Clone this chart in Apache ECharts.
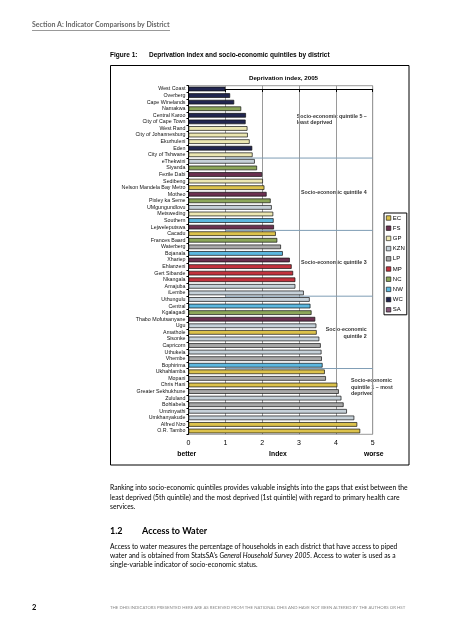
<!DOCTYPE html>
<html><head><meta charset="utf-8">
<script src="https://cdn.jsdelivr.net/npm/echarts@6/dist/echarts.min.js"></script>
<style>html,body{margin:0;padding:0;background:#fff}#c{width:453px;height:640px}</style>
</head><body><div id="c"></div>
<script>
const categories = ['West Coast','Overberg','Cape Winelands','Namakwa','Central Karoo','City of Cape Town','West Rand','City of Johannesburg','Ekurhuleni','Eden','City of Tshwane','eThekwini','Siyanda','Fezile Dabi','Sedibeng','Nelson Mandela Bay Metro','Motheo','Pixley ka Seme','UMgungundlovu','Metsweding','Southern','Lejweleputswa','Cacadu','Frances Baard','Waterberg','Bojanala','Xhariep','Ehlanzeni','Gert Sibande','Nkangala','Amajuba','iLembe','Uthungulu','Central','Kgalagadi','Thabo Mofutsanyane','Ugu','Amathole','Sisonke','Capricorn','Uthukela','Vhembe','Bophirima','Ukhahlamba','Mopani','Chris Hani','Greater Sekhukhune','Zululand','Bohlabela','Umzinyathi','Umkhanyakude','Alfred Nzo','O.R. Tambo'];
const values = [1.00,1.13,1.24,1.43,1.56,1.55,1.60,1.61,1.66,1.73,1.74,1.80,1.86,2.00,2.02,2.06,2.12,2.23,2.26,2.30,2.31,2.32,2.37,2.41,2.51,2.56,2.75,2.80,2.84,2.90,2.90,3.13,3.29,3.31,3.34,3.44,3.47,3.48,3.55,3.59,3.61,3.62,3.64,3.70,3.73,4.04,4.08,4.15,4.21,4.30,4.50,4.58,4.66];
const provinces = ['WC','WC','WC','NC','WC','WC','GP','GP','GP','WC','GP','KZN','NC','FS','GP','EC','FS','NC','KZN','GP','NW','FS','EC','NC','LP','NW','FS','MP','MP','MP','KZN','KZN','KZN','NW','NC','FS','KZN','EC','KZN','LP','KZN','LP','NW','EC','LP','EC','LP','KZN','LP','KZN','KZN','EC','EC'];
const provinceNames = ['EC','FS','GP','KZN','LP','MP','NC','NW','WC','SA'];
const xTicks = [0,1,2,3,4,5];
const quintileBreaks = [10.5, 21.5, 31.5, 42.5];
const quintileLabels = ['Socio-economic quintile 5 –\nleast deprived','Socio-economic quintile 4','Socio-economic quintile 3','Socio-economic\nquintile 2','Socio-economic\nquintile 1 – most\ndeprived'];

const colors = {EC:'#dcc24c',FS:'#6b3150',GP:'#ece7b2',KZN:'#c6d1d9',LP:'#a9a9a9',MP:'#c2323e',NC:'#8ca65a',NW:'#5cb8e0',WC:'#21254f',SA:'#86577a'};
const CF = '"Liberation Sans", Arial, sans-serif';
const DF = 'Lato, "DejaVu Sans", sans-serif';

const chart = echarts.init(document.getElementById('c'), null, {renderer:'canvas'});
const series = provinceNames.map(p => ({
  type:'bar', name:p, stack:'d', barWidth:4.6, xAxisIndex:0, yAxisIndex:0, color:colors[p],
  data: values.map((v,i) => provinces[i] === p ? v : '-'),
  itemStyle:{color:colors[p], borderColor:'#111', borderWidth:0.7},
  emphasis:{disabled:true}, z:3
}));
quintileBreaks.forEach(b => series.push({
  type:'line', xAxisIndex:0, yAxisIndex:1, symbol:'none', silent:true,
  data:[[1,b],[5,b]], lineStyle:{color:'#7f9db5', width:1}, z:2
}));

function t(text, x, y, size, opts){
  opts = opts || {};
  return {type:'text', x:x, y:y, silent:true, style:Object.assign({text:text, fontSize:size, fontFamily:CF, fill:'#000', textAlign:'left', textVerticalAlign:'middle'}, opts)};
}
const PS = 6.75;
const graphic = [
  {type:'rect', shape:{x:110.5,y:65.5,width:298.5,height:399.5}, style:{fill:'none', stroke:'#000', lineWidth:1}, silent:true},
  t('Section A: Indicator Comparisons by District', 32, 24.7, 7, {fontFamily:DF, fontWeight:'bold', fill:'#666'}),
  {type:'line', shape:{x1:32,y1:30.5,x2:170,y2:30.5}, style:{stroke:'#999', lineWidth:1}, silent:true},
  t('Figure 1:', 110, 55, 6.5, {fontWeight:'bold'}),
  t('Deprivation index and socio-economic quintiles by district', 149, 55, 6.5, {fontWeight:'bold'}),
  t('Deprivation index, 2005', 283.5, 78, 6.2, {fontWeight:'bold', textAlign:'center'}),
  t(quintileLabels[0], 296.7, 119.5, 5.3, {fontWeight:'bold', fill:'#333', lineHeight:6.7}),
  t(quintileLabels[1], 301, 192.7, 5.3, {fontWeight:'bold', fill:'#333'}),
  t(quintileLabels[2], 301, 262.3, 5.3, {fontWeight:'bold', fill:'#333'}),
  t(quintileLabels[3], 366.7, 333, 5.3, {fontWeight:'bold', fill:'#333', textAlign:'right', lineHeight:6.7}),
  t(quintileLabels[4], 351, 387.3, 5.3, {fontWeight:'bold', fill:'#333', lineHeight:6.5}),
  t('better', 186.7, 454, 6.8, {fontWeight:'bold', textAlign:'center'}),
  t('Index', 278, 454, 6.8, {fontWeight:'bold', textAlign:'center'}),
  t('worse', 373.7, 454, 6.8, {fontWeight:'bold', textAlign:'center'}),
  t('Ranking into socio-economic quintiles provides valuable insights into the gaps that exist between the', 110, 488.3, PS, {fontFamily:DF}),
  t('least deprived (5th quintile) and the most deprived (1st quintile) with regard to primary health care', 110, 497.7, PS, {fontFamily:DF}),
  t('services.', 110, 506.7, PS, {fontFamily:DF}),
  t('1.2', 110, 531, 9, {fontFamily:DF, fontWeight:'bold'}),
  t('Access to Water', 142, 531, 9, {fontFamily:DF, fontWeight:'bold'}),
  t('Access to water measures the percentage of households in each district that have access to piped', 110, 546.7, PS, {fontFamily:DF}),
  {type:'text', x:110, y:555.7, silent:true, style:{text:'water and is obtained from StatsSA\u2019s {i|General Household Survey 2005}. Access to water is used as a', fontSize:PS, fontFamily:DF, fill:'#000', textVerticalAlign:'middle', rich:{i:{fontStyle:'italic', fontSize:PS, fontFamily:DF}}}},
  t('single-variable indicator of socio-economic status.', 110, 565, PS, {fontFamily:DF}),
  t('2', 32, 608, 7.5, {fontFamily:DF, fontWeight:'bold'}),
  t('THE DHIS INDICATORS PRESENTED HERE ARE AS RECEIVED FROM THE NATIONAL DHIS AND HAVE NOT BEEN ALTERED BY THE AUTHORS OR HST', 110, 608, 4.3, {fontFamily:DF, fill:'#888'})
];

chart.setOption({
  animation:false,
  textStyle:{fontFamily:CF},
  grid:{left:188.5, right:80.3, top:85.7, bottom:205.7, show:true, borderColor:'#9a9a9a', borderWidth:1, backgroundColor:'transparent'},
  legend:{data:provinceNames.map(p => ({name:p, icon:'rect', itemStyle:{color:colors[p], borderColor:'#000', borderWidth:0.6}})),
    orient:'vertical', left:384, top:213, padding:[2,2,2,2], itemWidth:4.5, itemHeight:4.5, itemGap:4.2,
    borderColor:'#000', borderWidth:1, selectedMode:false, textStyle:{fontSize:6, fontFamily:CF, color:'#000', padding:[0,0,0,-3]}},
  xAxis:[{type:'value', min:xTicks[0], max:xTicks[xTicks.length-1], interval:1,
    axisLine:{show:true, lineStyle:{color:'#000', width:1}}, axisTick:{show:true, length:3, lineStyle:{color:'#000'}},
    axisLabel:{fontSize:7, color:'#000', margin:5, formatter:v => xTicks.indexOf(v) >= 0 ? String(v) : ''},
    splitLine:{show:true, lineStyle:{color:'#9a9a9a', width:1}}}],
  yAxis:[{type:'category', data:categories, inverse:true, boundaryGap:true,
    axisLine:{show:true, lineStyle:{color:'#000', width:1}}, axisTick:{show:true, length:2, lineStyle:{color:'#000'}},
    axisLabel:{fontSize:5.3, color:'#111', margin:3, interval:0}},
    {type:'value', min:-0.5, max:categories.length-0.5, inverse:true, show:false}],
  series:series,
  graphic:graphic
});
</script></body></html>
